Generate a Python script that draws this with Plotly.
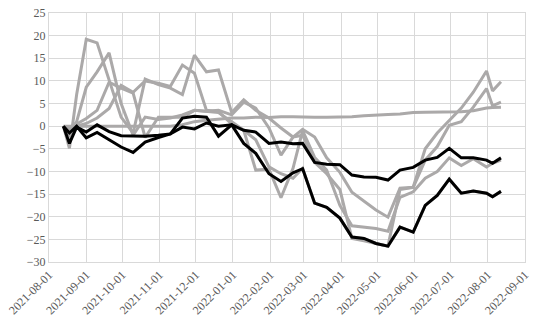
import plotly.graph_objects as go

dates = ["2021-08-13", "2021-08-18", "2021-08-24", "2021-09-01", "2021-09-10", "2021-09-20",
         "2021-09-30", "2021-10-10", "2021-10-20", "2021-10-31", "2021-11-10", "2021-11-20",
         "2021-11-30", "2021-12-10", "2021-12-20", "2021-12-31", "2022-01-10", "2022-01-20",
         "2022-01-31", "2022-02-10", "2022-02-20", "2022-02-28", "2022-03-10", "2022-03-20",
         "2022-03-31", "2022-04-10", "2022-04-20", "2022-04-30", "2022-05-10", "2022-05-20",
         "2022-05-31", "2022-06-10", "2022-06-20", "2022-06-30", "2022-07-10", "2022-07-20",
         "2022-07-31", "2022-08-05", "2022-08-12"]

gray_flat = [0, 0, 0, 0, 0, 0, 0, 0, 0, 0, 0, 0.3, 1.0, 1.3, 1.5, 1.8, 1.8, 2.0, 1.9, 2.1,
             2.1, 2.0, 2.0, 2.0, 2.0, 2.1, 2.3, 2.5, 2.6, 2.7, 3.0, 3.1, 3.1, 3.1, 3.2, 3.4,
             4.0, 4.1, 4.2]
gray_a = [0, -4.9, 7.0, 19.2, 18.4, 10.0, 2.0, -1.5, 10.4, 9.2, 8.4, 7.0, 15.7, 12.0, 12.4,
          3.0, 5.8, 3.5, 1.8, -0.4, -2.4, -0.7, -2.4, -7.0, -10.2, -14.6, -16.5, -18.5, -20.1,
          -13.7, -13.5, -5.0, -1.5, 1.3, 4.0, 7.5, 12.2, 7.8, 9.8]
gray_b = [0, -1.0, 1.0, 8.6, 12.0, 16.2, 5.0, -2.0, 2.0, 1.5, 1.8, 2.5, 3.5, 3.3, 3.5,
          2.5, 5.3, 4.0, -0.4, -6.4, -2.4, -2.0, -8.0, -10.5, -14.0, -24.8, -25.3, -25.9, -26.5,
          -14.0, -13.5, -7.5, -4.5, 0.2, 1.0, 4.2, 8.3, 4.5, 5.3]
gray_c = [0, -0.5, 0.5, 1.7, 3.5, 9.7, 8.4, 7.3, -2.5, 2.0, 2.0, 2.0, 3.5, 3.3, 3.0,
          1.0, -0.9, -9.7, -9.5, -15.8, -9.3, -1.0, -6.9, -9.7, -17.5, -22.0, -22.3, -22.6, -23.2,
          -15.7, -14.5, -11.5, -10.0, -7.0, -8.7, -7.2, -9.0, -8.2, -7.5]
gray_d = [0, -2.0, 0.0, 0.6, 1.8, 3.9, 9.0, 7.5, 10.0, 9.5, 8.8, 13.5, 11.7, 3.5, 3.2,
          0.5, -0.9, -3.0, -9.0, -10.5, -11.5, -9.3, -17.0, -17.9, -20.3, -24.5, -24.8, -25.9,
          -26.5, -22.3, -23.4, -17.5, -15.3, -11.7, -14.8, -14.3, -14.8, -15.6, -14.4]
black_upper = [0, -3.8, -0.2, -1.3, 0.3, -1.2, -2.1, -2.2, -2.2, -2.0, -1.7, 1.8, 2.2, 2.0, -2.2,
               0.3, -0.9, -1.3, -3.8, -3.5, -3.9, -3.8, -8.0, -8.4, -8.5, -10.8, -11.2, -11.3,
               -11.9, -9.7, -9.1, -7.5, -6.9, -4.9, -7.0, -7.0, -7.5, -8.2, -7.0]
black_lower = [0, -1.5, 0, -2.6, -1.4, -3.0, -4.6, -5.8, -3.5, -2.5, -1.7, -0.2, -0.6, 0.7, 0.0,
               0.3, -3.8, -6.0, -10.5, -12.2, -10.3, -9.4, -17.0, -17.9, -20.3, -24.5, -24.8,
               -25.9, -26.5, -22.3, -23.4, -17.5, -15.3, -11.7, -14.8, -14.3, -14.8, -15.6, -14.4]

GRAY = "#ABA9A9"
BLACK = "#000000"

fig = go.Figure()
for ys in [gray_d, gray_c, gray_b, gray_a, gray_flat]:
    fig.add_trace(go.Scatter(x=dates, y=ys, mode="lines",
                             line=dict(color=GRAY, width=3), hoverinfo="skip"))
for ys in [black_lower, black_upper]:
    fig.add_trace(go.Scatter(x=dates, y=ys, mode="lines",
                             line=dict(color=BLACK, width=3), hoverinfo="skip"))

FAMILY = "'Times New Roman', 'Liberation Serif', 'DejaVu Serif', serif"
TF = dict(family=FAMILY, size=12, color="#595959")
fig.update_layout(
    template="none",
    width=542, height=329,
    margin=dict(l=49, r=17, t=13, b=67, pad=0),
    paper_bgcolor="white", plot_bgcolor="white",
    showlegend=False,
    font=TF,
)
fig.update_xaxes(type="date", range=["2021-08-01", "2022-09-01"], dtick="M1",
                 tick0="2021-08-01", tickformat="%Y-%m-%d", tickangle=-45,
                 showgrid=True, gridcolor="#D9D9D9", gridwidth=1,
                 showline=True, linecolor="#D9D9D9", linewidth=1, mirror=True,
                 zeroline=False, ticks="", automargin=False, tickfont=TF)
fig.update_yaxes(range=[-30, 25], dtick=5, tick0=0,
                 showgrid=True, gridcolor="#D9D9D9", gridwidth=1,
                 showline=True, linecolor="#D9D9D9", linewidth=1, mirror=True,
                 zeroline=False, ticks="", automargin=False, tickfont=TF)

fig.write_html("out.html")
